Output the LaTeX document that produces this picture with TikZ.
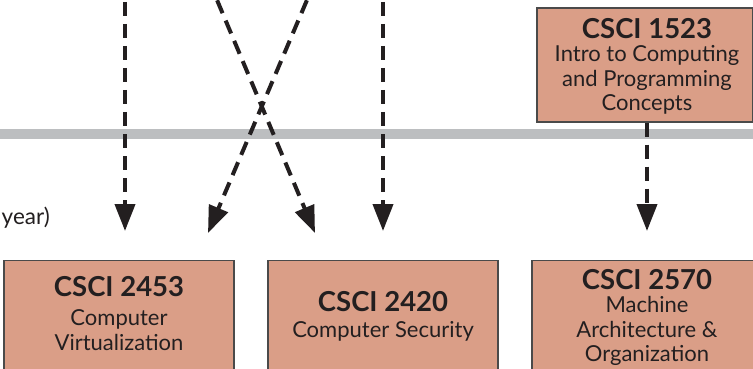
\documentclass[tikz,border=0pt]{standalone}
\usepackage{fontspec}
\setmainfont{Lato}
\usetikzlibrary{arrows.meta}
\definecolor{boxfill}{HTML}{DA9E87}
\definecolor{boxline}{HTML}{4A4A4A}
\definecolor{barcol}{HTML}{BCBEC0}
\definecolor{ink}{HTML}{231F20}
\tikzset{
  course/.style={draw=boxline, line width=1.2pt, fill=boxfill, inner sep=0pt,
    minimum width=230pt, minimum height=200pt, anchor=north},
  ttl/.style={font=\fontsize{27.5}{30}\selectfont\bfseries, text=ink, inner sep=0pt},
  sub/.style={font=\fontsize{22}{24.5}\selectfont, align=center, text=ink, inner sep=0pt},
  req/.style={draw=ink, line width=4pt, dash pattern=on 14pt off 8pt,
    -{Triangle[length=27pt,width=20pt]}}
}
\begin{document}
\begin{tikzpicture}[x=1pt,y=-1pt]
\useasboundingbox (0,0) rectangle (753,369);
\clip (0,0) rectangle (753,369);
% timeline bar
\fill[barcol] (0,129) rectangle (753,139);
% top course
\node[draw=boxline, line width=1.2pt, fill=boxfill, minimum width=216pt,
  minimum height=114pt, inner sep=0pt] (c1523) at (645,65) {};
\node[ttl] (t1523) at (647,29) {CSCI 1523};
\node[sub] (s1523) at (647,80) {Intro to Computing\\and Programming\\Concepts};
% bottom courses
\node[course] (c2453) at (119,260) {};
\node[ttl] (t2453) at (119,287) {CSCI 2453};
\node[sub] (s2453) at (119,330) {Computer\\Virtualization};
\node[course] (c2420) at (383,260) {};
\node[ttl] (t2420) at (383,302) {CSCI 2420};
\node[sub] (s2420) at (383,331) {Computer Security};
\node[course] (c2570) at (647,260) {};
\node[ttl] (t2570) at (647,280) {CSCI 2570};
\node[sub] (s2570) at (647,331) {Machine\\Architecture \&\\Organization};
% label
\node[font=\fontsize{22.5}{24}\selectfont, text=ink, anchor=east, inner sep=0pt] (yr) at (50,218) {year)};
% sources above the visible area
\coordinate (a1) at (125,-20);
\coordinate (a2) at (208.6,-20);
\coordinate (a3) at (315.5,-20);
\coordinate (a4) at (383,-20);
% arrow tips
\coordinate (e1) at (125,231);
\coordinate (e2) at (315,233);
\coordinate (e3) at (208,233);
\coordinate (e4) at (383,231);
\draw[req] (a1) -- (e1);
\draw[req] (a2) -- (e2);
\draw[req] (a3) -- (e3);
\draw[req] (a4) -- (e4);
\draw[req, shorten >=29pt] (c1523.south -| c2570.north) -- (c2570.north);
\end{tikzpicture}
\end{document}
